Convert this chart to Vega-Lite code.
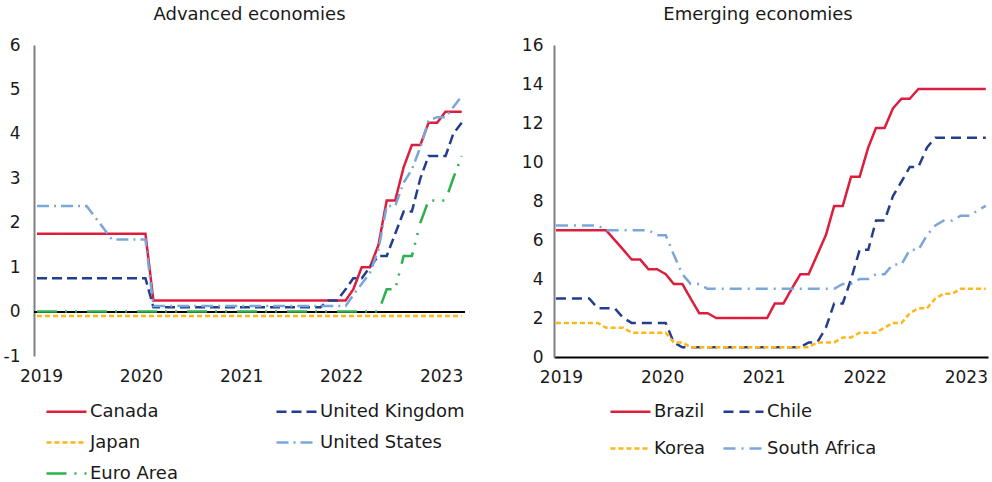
{
"$schema": "https://vega.github.io/schema/vega-lite/v6.json",
"background": "white",
"padding": {"left": 3, "top": 6, "right": 0, "bottom": 0},
"spacing": 54,
"config": {
 "font": "DejaVu Sans",
 "view": {"stroke": null},
 "axis": {"grid": false, "ticks": false, "labelFont": "DejaVu Sans", "labelFontSize": 17, "labelColor": "#1a1a1a", "title": null},
 "title": {"font": "DejaVu Sans", "fontSize": 18, "fontWeight": "normal", "color": "#1a1a1a"},
 "legend": {"labelFont": "DejaVu Sans", "labelFontSize": 18, "labelColor": "#1a1a1a", "symbolType": "stroke", "symbolSize": 1600, "symbolStrokeWidth": 2.5, "padding": 0, "labelOffset": 2, "title": null}
},
"datasets": {
"advanced": [
{"month":"2019-01","country":"Canada","rate":1.75},{"month":"2019-02","country":"Canada","rate":1.75},{"month":"2019-03","country":"Canada","rate":1.75},{"month":"2019-04","country":"Canada","rate":1.75},{"month":"2019-05","country":"Canada","rate":1.75},{"month":"2019-06","country":"Canada","rate":1.75},{"month":"2019-07","country":"Canada","rate":1.75},{"month":"2019-08","country":"Canada","rate":1.75},{"month":"2019-09","country":"Canada","rate":1.75},{"month":"2019-10","country":"Canada","rate":1.75},{"month":"2019-11","country":"Canada","rate":1.75},{"month":"2019-12","country":"Canada","rate":1.75},
{"month":"2020-01","country":"Canada","rate":1.75},{"month":"2020-02","country":"Canada","rate":1.75},{"month":"2020-03","country":"Canada","rate":0.25},{"month":"2020-04","country":"Canada","rate":0.25},{"month":"2020-05","country":"Canada","rate":0.25},{"month":"2020-06","country":"Canada","rate":0.25},{"month":"2020-07","country":"Canada","rate":0.25},{"month":"2020-08","country":"Canada","rate":0.25},{"month":"2020-09","country":"Canada","rate":0.25},{"month":"2020-10","country":"Canada","rate":0.25},{"month":"2020-11","country":"Canada","rate":0.25},{"month":"2020-12","country":"Canada","rate":0.25},
{"month":"2021-01","country":"Canada","rate":0.25},{"month":"2021-02","country":"Canada","rate":0.25},{"month":"2021-03","country":"Canada","rate":0.25},{"month":"2021-04","country":"Canada","rate":0.25},{"month":"2021-05","country":"Canada","rate":0.25},{"month":"2021-06","country":"Canada","rate":0.25},{"month":"2021-07","country":"Canada","rate":0.25},{"month":"2021-08","country":"Canada","rate":0.25},{"month":"2021-09","country":"Canada","rate":0.25},{"month":"2021-10","country":"Canada","rate":0.25},{"month":"2021-11","country":"Canada","rate":0.25},{"month":"2021-12","country":"Canada","rate":0.25},
{"month":"2022-01","country":"Canada","rate":0.25},{"month":"2022-02","country":"Canada","rate":0.25},{"month":"2022-03","country":"Canada","rate":0.5},{"month":"2022-04","country":"Canada","rate":1},{"month":"2022-05","country":"Canada","rate":1},{"month":"2022-06","country":"Canada","rate":1.5},{"month":"2022-07","country":"Canada","rate":2.5},{"month":"2022-08","country":"Canada","rate":2.5},{"month":"2022-09","country":"Canada","rate":3.25},{"month":"2022-10","country":"Canada","rate":3.75},{"month":"2022-11","country":"Canada","rate":3.75},{"month":"2022-12","country":"Canada","rate":4.25},
{"month":"2023-01","country":"Canada","rate":4.25},{"month":"2023-02","country":"Canada","rate":4.5},{"month":"2023-03","country":"Canada","rate":4.5},{"month":"2023-04","country":"Canada","rate":4.5},
{"month":"2019-01","country":"United Kingdom","rate":0.75},{"month":"2019-02","country":"United Kingdom","rate":0.75},{"month":"2019-03","country":"United Kingdom","rate":0.75},{"month":"2019-04","country":"United Kingdom","rate":0.75},{"month":"2019-05","country":"United Kingdom","rate":0.75},{"month":"2019-06","country":"United Kingdom","rate":0.75},{"month":"2019-07","country":"United Kingdom","rate":0.75},{"month":"2019-08","country":"United Kingdom","rate":0.75},{"month":"2019-09","country":"United Kingdom","rate":0.75},{"month":"2019-10","country":"United Kingdom","rate":0.75},{"month":"2019-11","country":"United Kingdom","rate":0.75},{"month":"2019-12","country":"United Kingdom","rate":0.75},
{"month":"2020-01","country":"United Kingdom","rate":0.75},{"month":"2020-02","country":"United Kingdom","rate":0.75},{"month":"2020-03","country":"United Kingdom","rate":0.1},{"month":"2020-04","country":"United Kingdom","rate":0.1},{"month":"2020-05","country":"United Kingdom","rate":0.1},{"month":"2020-06","country":"United Kingdom","rate":0.1},{"month":"2020-07","country":"United Kingdom","rate":0.1},{"month":"2020-08","country":"United Kingdom","rate":0.1},{"month":"2020-09","country":"United Kingdom","rate":0.1},{"month":"2020-10","country":"United Kingdom","rate":0.1},{"month":"2020-11","country":"United Kingdom","rate":0.1},{"month":"2020-12","country":"United Kingdom","rate":0.1},
{"month":"2021-01","country":"United Kingdom","rate":0.1},{"month":"2021-02","country":"United Kingdom","rate":0.1},{"month":"2021-03","country":"United Kingdom","rate":0.1},{"month":"2021-04","country":"United Kingdom","rate":0.1},{"month":"2021-05","country":"United Kingdom","rate":0.1},{"month":"2021-06","country":"United Kingdom","rate":0.1},{"month":"2021-07","country":"United Kingdom","rate":0.1},{"month":"2021-08","country":"United Kingdom","rate":0.1},{"month":"2021-09","country":"United Kingdom","rate":0.1},{"month":"2021-10","country":"United Kingdom","rate":0.1},{"month":"2021-11","country":"United Kingdom","rate":0.1},{"month":"2021-12","country":"United Kingdom","rate":0.25},
{"month":"2022-01","country":"United Kingdom","rate":0.25},{"month":"2022-02","country":"United Kingdom","rate":0.5},{"month":"2022-03","country":"United Kingdom","rate":0.75},{"month":"2022-04","country":"United Kingdom","rate":0.75},{"month":"2022-05","country":"United Kingdom","rate":1},{"month":"2022-06","country":"United Kingdom","rate":1.25},{"month":"2022-07","country":"United Kingdom","rate":1.25},{"month":"2022-08","country":"United Kingdom","rate":1.75},{"month":"2022-09","country":"United Kingdom","rate":2.25},{"month":"2022-10","country":"United Kingdom","rate":2.25},{"month":"2022-11","country":"United Kingdom","rate":3},{"month":"2022-12","country":"United Kingdom","rate":3.5},
{"month":"2023-01","country":"United Kingdom","rate":3.5},{"month":"2023-02","country":"United Kingdom","rate":3.5},{"month":"2023-03","country":"United Kingdom","rate":4},{"month":"2023-04","country":"United Kingdom","rate":4.25},
{"month":"2019-01","country":"Japan","rate":-0.1},{"month":"2019-02","country":"Japan","rate":-0.1},{"month":"2019-03","country":"Japan","rate":-0.1},{"month":"2019-04","country":"Japan","rate":-0.1},{"month":"2019-05","country":"Japan","rate":-0.1},{"month":"2019-06","country":"Japan","rate":-0.1},{"month":"2019-07","country":"Japan","rate":-0.1},{"month":"2019-08","country":"Japan","rate":-0.1},{"month":"2019-09","country":"Japan","rate":-0.1},{"month":"2019-10","country":"Japan","rate":-0.1},{"month":"2019-11","country":"Japan","rate":-0.1},{"month":"2019-12","country":"Japan","rate":-0.1},
{"month":"2020-01","country":"Japan","rate":-0.1},{"month":"2020-02","country":"Japan","rate":-0.1},{"month":"2020-03","country":"Japan","rate":-0.1},{"month":"2020-04","country":"Japan","rate":-0.1},{"month":"2020-05","country":"Japan","rate":-0.1},{"month":"2020-06","country":"Japan","rate":-0.1},{"month":"2020-07","country":"Japan","rate":-0.1},{"month":"2020-08","country":"Japan","rate":-0.1},{"month":"2020-09","country":"Japan","rate":-0.1},{"month":"2020-10","country":"Japan","rate":-0.1},{"month":"2020-11","country":"Japan","rate":-0.1},{"month":"2020-12","country":"Japan","rate":-0.1},
{"month":"2021-01","country":"Japan","rate":-0.1},{"month":"2021-02","country":"Japan","rate":-0.1},{"month":"2021-03","country":"Japan","rate":-0.1},{"month":"2021-04","country":"Japan","rate":-0.1},{"month":"2021-05","country":"Japan","rate":-0.1},{"month":"2021-06","country":"Japan","rate":-0.1},{"month":"2021-07","country":"Japan","rate":-0.1},{"month":"2021-08","country":"Japan","rate":-0.1},{"month":"2021-09","country":"Japan","rate":-0.1},{"month":"2021-10","country":"Japan","rate":-0.1},{"month":"2021-11","country":"Japan","rate":-0.1},{"month":"2021-12","country":"Japan","rate":-0.1},
{"month":"2022-01","country":"Japan","rate":-0.1},{"month":"2022-02","country":"Japan","rate":-0.1},{"month":"2022-03","country":"Japan","rate":-0.1},{"month":"2022-04","country":"Japan","rate":-0.1},{"month":"2022-05","country":"Japan","rate":-0.1},{"month":"2022-06","country":"Japan","rate":-0.1},{"month":"2022-07","country":"Japan","rate":-0.1},{"month":"2022-08","country":"Japan","rate":-0.1},{"month":"2022-09","country":"Japan","rate":-0.1},{"month":"2022-10","country":"Japan","rate":-0.1},{"month":"2022-11","country":"Japan","rate":-0.1},{"month":"2022-12","country":"Japan","rate":-0.1},
{"month":"2023-01","country":"Japan","rate":-0.1},{"month":"2023-02","country":"Japan","rate":-0.1},{"month":"2023-03","country":"Japan","rate":-0.1},{"month":"2023-04","country":"Japan","rate":-0.1},
{"month":"2019-01","country":"United States","rate":2.375},{"month":"2019-02","country":"United States","rate":2.375},{"month":"2019-03","country":"United States","rate":2.375},{"month":"2019-04","country":"United States","rate":2.375},{"month":"2019-05","country":"United States","rate":2.375},{"month":"2019-06","country":"United States","rate":2.375},{"month":"2019-07","country":"United States","rate":2.375},{"month":"2019-08","country":"United States","rate":2.125},{"month":"2019-09","country":"United States","rate":1.875},{"month":"2019-10","country":"United States","rate":1.625},{"month":"2019-11","country":"United States","rate":1.625},{"month":"2019-12","country":"United States","rate":1.625},
{"month":"2020-01","country":"United States","rate":1.625},{"month":"2020-02","country":"United States","rate":1.625},{"month":"2020-03","country":"United States","rate":0.125},{"month":"2020-04","country":"United States","rate":0.125},{"month":"2020-05","country":"United States","rate":0.125},{"month":"2020-06","country":"United States","rate":0.125},{"month":"2020-07","country":"United States","rate":0.125},{"month":"2020-08","country":"United States","rate":0.125},{"month":"2020-09","country":"United States","rate":0.125},{"month":"2020-10","country":"United States","rate":0.125},{"month":"2020-11","country":"United States","rate":0.125},{"month":"2020-12","country":"United States","rate":0.125},
{"month":"2021-01","country":"United States","rate":0.125},{"month":"2021-02","country":"United States","rate":0.125},{"month":"2021-03","country":"United States","rate":0.125},{"month":"2021-04","country":"United States","rate":0.125},{"month":"2021-05","country":"United States","rate":0.125},{"month":"2021-06","country":"United States","rate":0.125},{"month":"2021-07","country":"United States","rate":0.125},{"month":"2021-08","country":"United States","rate":0.125},{"month":"2021-09","country":"United States","rate":0.125},{"month":"2021-10","country":"United States","rate":0.125},{"month":"2021-11","country":"United States","rate":0.125},{"month":"2021-12","country":"United States","rate":0.125},
{"month":"2022-01","country":"United States","rate":0.125},{"month":"2022-02","country":"United States","rate":0.125},{"month":"2022-03","country":"United States","rate":0.375},{"month":"2022-04","country":"United States","rate":0.625},{"month":"2022-05","country":"United States","rate":0.875},{"month":"2022-06","country":"United States","rate":1.4},{"month":"2022-07","country":"United States","rate":2.375},{"month":"2022-08","country":"United States","rate":2.375},{"month":"2022-09","country":"United States","rate":2.9},{"month":"2022-10","country":"United States","rate":3.2},{"month":"2022-11","country":"United States","rate":3.7},{"month":"2022-12","country":"United States","rate":4.3},
{"month":"2023-01","country":"United States","rate":4.375},{"month":"2023-02","country":"United States","rate":4.375},{"month":"2023-03","country":"United States","rate":4.6},{"month":"2023-04","country":"United States","rate":4.85},
{"month":"2019-01","country":"Euro Area","rate":0},{"month":"2019-02","country":"Euro Area","rate":0},{"month":"2019-03","country":"Euro Area","rate":0},{"month":"2019-04","country":"Euro Area","rate":0},{"month":"2019-05","country":"Euro Area","rate":0},{"month":"2019-06","country":"Euro Area","rate":0},{"month":"2019-07","country":"Euro Area","rate":0},{"month":"2019-08","country":"Euro Area","rate":0},{"month":"2019-09","country":"Euro Area","rate":0},{"month":"2019-10","country":"Euro Area","rate":0},{"month":"2019-11","country":"Euro Area","rate":0},{"month":"2019-12","country":"Euro Area","rate":0},
{"month":"2020-01","country":"Euro Area","rate":0},{"month":"2020-02","country":"Euro Area","rate":0},{"month":"2020-03","country":"Euro Area","rate":0},{"month":"2020-04","country":"Euro Area","rate":0},{"month":"2020-05","country":"Euro Area","rate":0},{"month":"2020-06","country":"Euro Area","rate":0},{"month":"2020-07","country":"Euro Area","rate":0},{"month":"2020-08","country":"Euro Area","rate":0},{"month":"2020-09","country":"Euro Area","rate":0},{"month":"2020-10","country":"Euro Area","rate":0},{"month":"2020-11","country":"Euro Area","rate":0},{"month":"2020-12","country":"Euro Area","rate":0},
{"month":"2021-01","country":"Euro Area","rate":0},{"month":"2021-02","country":"Euro Area","rate":0},{"month":"2021-03","country":"Euro Area","rate":0},{"month":"2021-04","country":"Euro Area","rate":0},{"month":"2021-05","country":"Euro Area","rate":0},{"month":"2021-06","country":"Euro Area","rate":0},{"month":"2021-07","country":"Euro Area","rate":0},{"month":"2021-08","country":"Euro Area","rate":0},{"month":"2021-09","country":"Euro Area","rate":0},{"month":"2021-10","country":"Euro Area","rate":0},{"month":"2021-11","country":"Euro Area","rate":0},{"month":"2021-12","country":"Euro Area","rate":0},
{"month":"2022-01","country":"Euro Area","rate":0},{"month":"2022-02","country":"Euro Area","rate":0},{"month":"2022-03","country":"Euro Area","rate":0},{"month":"2022-04","country":"Euro Area","rate":0},{"month":"2022-05","country":"Euro Area","rate":0},{"month":"2022-06","country":"Euro Area","rate":0},{"month":"2022-07","country":"Euro Area","rate":0.5},{"month":"2022-08","country":"Euro Area","rate":0.5},{"month":"2022-09","country":"Euro Area","rate":1.25},{"month":"2022-10","country":"Euro Area","rate":1.25},{"month":"2022-11","country":"Euro Area","rate":2},{"month":"2022-12","country":"Euro Area","rate":2.5},
{"month":"2023-01","country":"Euro Area","rate":2.5},{"month":"2023-02","country":"Euro Area","rate":2.5},{"month":"2023-03","country":"Euro Area","rate":3},{"month":"2023-04","country":"Euro Area","rate":3.5}
],
"emerging": [
{"month":"2019-01","country":"Brazil","rate":6.5},{"month":"2019-02","country":"Brazil","rate":6.5},{"month":"2019-03","country":"Brazil","rate":6.5},{"month":"2019-04","country":"Brazil","rate":6.5},{"month":"2019-05","country":"Brazil","rate":6.5},{"month":"2019-06","country":"Brazil","rate":6.5},{"month":"2019-07","country":"Brazil","rate":6.5},{"month":"2019-08","country":"Brazil","rate":6},{"month":"2019-09","country":"Brazil","rate":5.5},{"month":"2019-10","country":"Brazil","rate":5},{"month":"2019-11","country":"Brazil","rate":5},{"month":"2019-12","country":"Brazil","rate":4.5},
{"month":"2020-01","country":"Brazil","rate":4.5},{"month":"2020-02","country":"Brazil","rate":4.25},{"month":"2020-03","country":"Brazil","rate":3.75},{"month":"2020-04","country":"Brazil","rate":3.75},{"month":"2020-05","country":"Brazil","rate":3},{"month":"2020-06","country":"Brazil","rate":2.25},{"month":"2020-07","country":"Brazil","rate":2.25},{"month":"2020-08","country":"Brazil","rate":2},{"month":"2020-09","country":"Brazil","rate":2},{"month":"2020-10","country":"Brazil","rate":2},{"month":"2020-11","country":"Brazil","rate":2},{"month":"2020-12","country":"Brazil","rate":2},
{"month":"2021-01","country":"Brazil","rate":2},{"month":"2021-02","country":"Brazil","rate":2},{"month":"2021-03","country":"Brazil","rate":2.75},{"month":"2021-04","country":"Brazil","rate":2.75},{"month":"2021-05","country":"Brazil","rate":3.5},{"month":"2021-06","country":"Brazil","rate":4.25},{"month":"2021-07","country":"Brazil","rate":4.25},{"month":"2021-08","country":"Brazil","rate":5.25},{"month":"2021-09","country":"Brazil","rate":6.25},{"month":"2021-10","country":"Brazil","rate":7.75},{"month":"2021-11","country":"Brazil","rate":7.75},{"month":"2021-12","country":"Brazil","rate":9.25},
{"month":"2022-01","country":"Brazil","rate":9.25},{"month":"2022-02","country":"Brazil","rate":10.75},{"month":"2022-03","country":"Brazil","rate":11.75},{"month":"2022-04","country":"Brazil","rate":11.75},{"month":"2022-05","country":"Brazil","rate":12.75},{"month":"2022-06","country":"Brazil","rate":13.25},{"month":"2022-07","country":"Brazil","rate":13.25},{"month":"2022-08","country":"Brazil","rate":13.75},{"month":"2022-09","country":"Brazil","rate":13.75},{"month":"2022-10","country":"Brazil","rate":13.75},{"month":"2022-11","country":"Brazil","rate":13.75},{"month":"2022-12","country":"Brazil","rate":13.75},
{"month":"2023-01","country":"Brazil","rate":13.75},{"month":"2023-02","country":"Brazil","rate":13.75},{"month":"2023-03","country":"Brazil","rate":13.75},{"month":"2023-04","country":"Brazil","rate":13.75},
{"month":"2019-01","country":"Chile","rate":3},{"month":"2019-02","country":"Chile","rate":3},{"month":"2019-03","country":"Chile","rate":3},{"month":"2019-04","country":"Chile","rate":3},{"month":"2019-05","country":"Chile","rate":3},{"month":"2019-06","country":"Chile","rate":2.5},{"month":"2019-07","country":"Chile","rate":2.5},{"month":"2019-08","country":"Chile","rate":2.5},{"month":"2019-09","country":"Chile","rate":2},{"month":"2019-10","country":"Chile","rate":1.75},{"month":"2019-11","country":"Chile","rate":1.75},{"month":"2019-12","country":"Chile","rate":1.75},
{"month":"2020-01","country":"Chile","rate":1.75},{"month":"2020-02","country":"Chile","rate":1.75},{"month":"2020-03","country":"Chile","rate":0.75},{"month":"2020-04","country":"Chile","rate":0.5},{"month":"2020-05","country":"Chile","rate":0.5},{"month":"2020-06","country":"Chile","rate":0.5},{"month":"2020-07","country":"Chile","rate":0.5},{"month":"2020-08","country":"Chile","rate":0.5},{"month":"2020-09","country":"Chile","rate":0.5},{"month":"2020-10","country":"Chile","rate":0.5},{"month":"2020-11","country":"Chile","rate":0.5},{"month":"2020-12","country":"Chile","rate":0.5},
{"month":"2021-01","country":"Chile","rate":0.5},{"month":"2021-02","country":"Chile","rate":0.5},{"month":"2021-03","country":"Chile","rate":0.5},{"month":"2021-04","country":"Chile","rate":0.5},{"month":"2021-05","country":"Chile","rate":0.5},{"month":"2021-06","country":"Chile","rate":0.5},{"month":"2021-07","country":"Chile","rate":0.75},{"month":"2021-08","country":"Chile","rate":0.75},{"month":"2021-09","country":"Chile","rate":1.5},{"month":"2021-10","country":"Chile","rate":2.75},{"month":"2021-11","country":"Chile","rate":2.75},{"month":"2021-12","country":"Chile","rate":4},
{"month":"2022-01","country":"Chile","rate":5.5},{"month":"2022-02","country":"Chile","rate":5.5},{"month":"2022-03","country":"Chile","rate":7},{"month":"2022-04","country":"Chile","rate":7},{"month":"2022-05","country":"Chile","rate":8.25},{"month":"2022-06","country":"Chile","rate":9},{"month":"2022-07","country":"Chile","rate":9.75},{"month":"2022-08","country":"Chile","rate":9.75},{"month":"2022-09","country":"Chile","rate":10.75},{"month":"2022-10","country":"Chile","rate":11.25},{"month":"2022-11","country":"Chile","rate":11.25},{"month":"2022-12","country":"Chile","rate":11.25},
{"month":"2023-01","country":"Chile","rate":11.25},{"month":"2023-02","country":"Chile","rate":11.25},{"month":"2023-03","country":"Chile","rate":11.25},{"month":"2023-04","country":"Chile","rate":11.25},
{"month":"2019-01","country":"Korea","rate":1.75},{"month":"2019-02","country":"Korea","rate":1.75},{"month":"2019-03","country":"Korea","rate":1.75},{"month":"2019-04","country":"Korea","rate":1.75},{"month":"2019-05","country":"Korea","rate":1.75},{"month":"2019-06","country":"Korea","rate":1.75},{"month":"2019-07","country":"Korea","rate":1.5},{"month":"2019-08","country":"Korea","rate":1.5},{"month":"2019-09","country":"Korea","rate":1.5},{"month":"2019-10","country":"Korea","rate":1.25},{"month":"2019-11","country":"Korea","rate":1.25},{"month":"2019-12","country":"Korea","rate":1.25},
{"month":"2020-01","country":"Korea","rate":1.25},{"month":"2020-02","country":"Korea","rate":1.25},{"month":"2020-03","country":"Korea","rate":0.75},{"month":"2020-04","country":"Korea","rate":0.75},{"month":"2020-05","country":"Korea","rate":0.5},{"month":"2020-06","country":"Korea","rate":0.5},{"month":"2020-07","country":"Korea","rate":0.5},{"month":"2020-08","country":"Korea","rate":0.5},{"month":"2020-09","country":"Korea","rate":0.5},{"month":"2020-10","country":"Korea","rate":0.5},{"month":"2020-11","country":"Korea","rate":0.5},{"month":"2020-12","country":"Korea","rate":0.5},
{"month":"2021-01","country":"Korea","rate":0.5},{"month":"2021-02","country":"Korea","rate":0.5},{"month":"2021-03","country":"Korea","rate":0.5},{"month":"2021-04","country":"Korea","rate":0.5},{"month":"2021-05","country":"Korea","rate":0.5},{"month":"2021-06","country":"Korea","rate":0.5},{"month":"2021-07","country":"Korea","rate":0.5},{"month":"2021-08","country":"Korea","rate":0.75},{"month":"2021-09","country":"Korea","rate":0.75},{"month":"2021-10","country":"Korea","rate":0.75},{"month":"2021-11","country":"Korea","rate":1},{"month":"2021-12","country":"Korea","rate":1},
{"month":"2022-01","country":"Korea","rate":1.25},{"month":"2022-02","country":"Korea","rate":1.25},{"month":"2022-03","country":"Korea","rate":1.25},{"month":"2022-04","country":"Korea","rate":1.5},{"month":"2022-05","country":"Korea","rate":1.75},{"month":"2022-06","country":"Korea","rate":1.75},{"month":"2022-07","country":"Korea","rate":2.25},{"month":"2022-08","country":"Korea","rate":2.5},{"month":"2022-09","country":"Korea","rate":2.5},{"month":"2022-10","country":"Korea","rate":3},{"month":"2022-11","country":"Korea","rate":3.25},{"month":"2022-12","country":"Korea","rate":3.25},
{"month":"2023-01","country":"Korea","rate":3.5},{"month":"2023-02","country":"Korea","rate":3.5},{"month":"2023-03","country":"Korea","rate":3.5},{"month":"2023-04","country":"Korea","rate":3.5},
{"month":"2019-01","country":"South Africa","rate":6.75},{"month":"2019-02","country":"South Africa","rate":6.75},{"month":"2019-03","country":"South Africa","rate":6.75},{"month":"2019-04","country":"South Africa","rate":6.75},{"month":"2019-05","country":"South Africa","rate":6.75},{"month":"2019-06","country":"South Africa","rate":6.75},{"month":"2019-07","country":"South Africa","rate":6.5},{"month":"2019-08","country":"South Africa","rate":6.5},{"month":"2019-09","country":"South Africa","rate":6.5},{"month":"2019-10","country":"South Africa","rate":6.5},{"month":"2019-11","country":"South Africa","rate":6.5},{"month":"2019-12","country":"South Africa","rate":6.5},
{"month":"2020-01","country":"South Africa","rate":6.25},{"month":"2020-02","country":"South Africa","rate":6.25},{"month":"2020-03","country":"South Africa","rate":5.25},{"month":"2020-04","country":"South Africa","rate":4.25},{"month":"2020-05","country":"South Africa","rate":3.75},{"month":"2020-06","country":"South Africa","rate":3.75},{"month":"2020-07","country":"South Africa","rate":3.5},{"month":"2020-08","country":"South Africa","rate":3.5},{"month":"2020-09","country":"South Africa","rate":3.5},{"month":"2020-10","country":"South Africa","rate":3.5},{"month":"2020-11","country":"South Africa","rate":3.5},{"month":"2020-12","country":"South Africa","rate":3.5},
{"month":"2021-01","country":"South Africa","rate":3.5},{"month":"2021-02","country":"South Africa","rate":3.5},{"month":"2021-03","country":"South Africa","rate":3.5},{"month":"2021-04","country":"South Africa","rate":3.5},{"month":"2021-05","country":"South Africa","rate":3.5},{"month":"2021-06","country":"South Africa","rate":3.5},{"month":"2021-07","country":"South Africa","rate":3.5},{"month":"2021-08","country":"South Africa","rate":3.5},{"month":"2021-09","country":"South Africa","rate":3.5},{"month":"2021-10","country":"South Africa","rate":3.5},{"month":"2021-11","country":"South Africa","rate":3.75},{"month":"2021-12","country":"South Africa","rate":3.75},
{"month":"2022-01","country":"South Africa","rate":4},{"month":"2022-02","country":"South Africa","rate":4},{"month":"2022-03","country":"South Africa","rate":4.25},{"month":"2022-04","country":"South Africa","rate":4.25},{"month":"2022-05","country":"South Africa","rate":4.75},{"month":"2022-06","country":"South Africa","rate":4.75},{"month":"2022-07","country":"South Africa","rate":5.5},{"month":"2022-08","country":"South Africa","rate":5.5},{"month":"2022-09","country":"South Africa","rate":6.25},{"month":"2022-10","country":"South Africa","rate":6.75},{"month":"2022-11","country":"South Africa","rate":7},{"month":"2022-12","country":"South Africa","rate":7},
{"month":"2023-01","country":"South Africa","rate":7.25},{"month":"2023-02","country":"South Africa","rate":7.25},{"month":"2023-03","country":"South Africa","rate":7.5},{"month":"2023-04","country":"South Africa","rate":7.75}
]
},
"resolve": {"scale": {"x": "independent", "y": "independent", "color": "independent", "strokeDash": "independent"}, "legend": {"color": "independent", "strokeDash": "independent"}},
"hconcat": [
{
 "width": 431, "height": 311,
 "title": {"text": "Advanced economies", "offset": 12, "anchor": "middle", "frame": "group"},
 "data": {"name": "advanced"},
 "layer": [
  {"mark": {"type": "rule", "color": "#000000", "strokeWidth": 1}, "encoding": {"y": {"datum": 0, "type": "quantitative"}}},
  {"mark": {"type": "line", "strokeWidth": 2.5},
   "encoding": {
    "x": {"field": "month", "type": "temporal",
      "scale": {"type": "utc", "domain": [{"year": 2018, "month": 12, "date": 21, "utc": true}, {"year": 2023, "month": 4, "date": 13, "utc": true}]},
      "axis": {"format": "%Y", "values": [{"year": 2019, "utc": true}, {"year": 2020, "utc": true}, {"year": 2021, "utc": true}, {"year": 2022, "utc": true}, {"year": 2023, "utc": true}], "domain": false, "labelPadding": 12, "labelOffset": 4}},
    "y": {"field": "rate", "type": "quantitative", "scale": {"domain": [-1, 6], "nice": false, "zero": false},
      "axis": {"values": [-1, 0, 1, 2, 3, 4, 5, 6], "labelExpr": "toString(datum.value)", "domainColor": "#808080", "domainWidth": 2, "labelPadding": 14}},
    "color": {"field": "country", "type": "nominal",
      "scale": {"domain": ["Canada", "Japan", "Euro Area", "United Kingdom", "United States"], "range": ["#DC1E3C", "#FDB71A", "#2BB24C", "#233E8B", "#7BA6DA"]},
      "legend": {"orient": "none", "legendX": 11, "legendY": 345, "columns": 2, "columnPadding": 93, "rowPadding": -4}},
    "strokeDash": {"field": "country", "type": "nominal",
      "scale": {"domain": ["Canada", "Japan", "Euro Area", "United Kingdom", "United States"], "range": [[1, 0], [5, 3], [20, 8, 2, 8, 2, 10], [10, 5], [12, 5, 2, 5]]},
      "legend": {"orient": "none", "legendX": 11, "legendY": 345, "columns": 2, "columnPadding": 93, "rowPadding": -4}}
   }}
 ]
},
{
 "width": 434, "height": 312,
 "title": {"text": "Emerging economies", "offset": 12, "anchor": "middle", "frame": "group", "dx": -13},
 "data": {"name": "emerging"},
 "mark": {"type": "line", "strokeWidth": 2.5},
 "encoding": {
  "x": {"field": "month", "type": "temporal",
    "scale": {"type": "utc", "domain": [{"year": 2018, "month": 12, "date": 25, "utc": true}, {"year": 2023, "month": 4, "date": 9, "utc": true}]},
    "axis": {"format": "%Y", "values": [{"year": 2019, "utc": true}, {"year": 2020, "utc": true}, {"year": 2021, "utc": true}, {"year": 2022, "utc": true}, {"year": 2023, "utc": true}], "domain": true, "domainColor": "#000000", "domainWidth": 2, "labelPadding": 12, "labelOffset": 5}},
  "y": {"field": "rate", "type": "quantitative", "scale": {"domain": [0, 16], "nice": false},
    "axis": {"values": [0, 2, 4, 6, 8, 10, 12, 14, 16], "domainColor": "#808080", "domainWidth": 2, "labelPadding": 11}},
  "color": {"field": "country", "type": "nominal",
    "scale": {"domain": ["Brazil", "Korea", "Chile", "South Africa"], "range": ["#DC1E3C", "#FDB71A", "#233E8B", "#7BA6DA"]},
    "legend": {"orient": "none", "legendX": 55, "legendY": 345, "columns": 2, "columnPadding": 12, "rowPadding": 6}},
  "strokeDash": {"field": "country", "type": "nominal",
    "scale": {"domain": ["Brazil", "Korea", "Chile", "South Africa"], "range": [[1, 0], [5, 3], [10, 6], [12, 6, 2, 6]]},
    "legend": {"orient": "none", "legendX": 55, "legendY": 345, "columns": 2, "columnPadding": 12, "rowPadding": 6}}
 }
}
]
}
